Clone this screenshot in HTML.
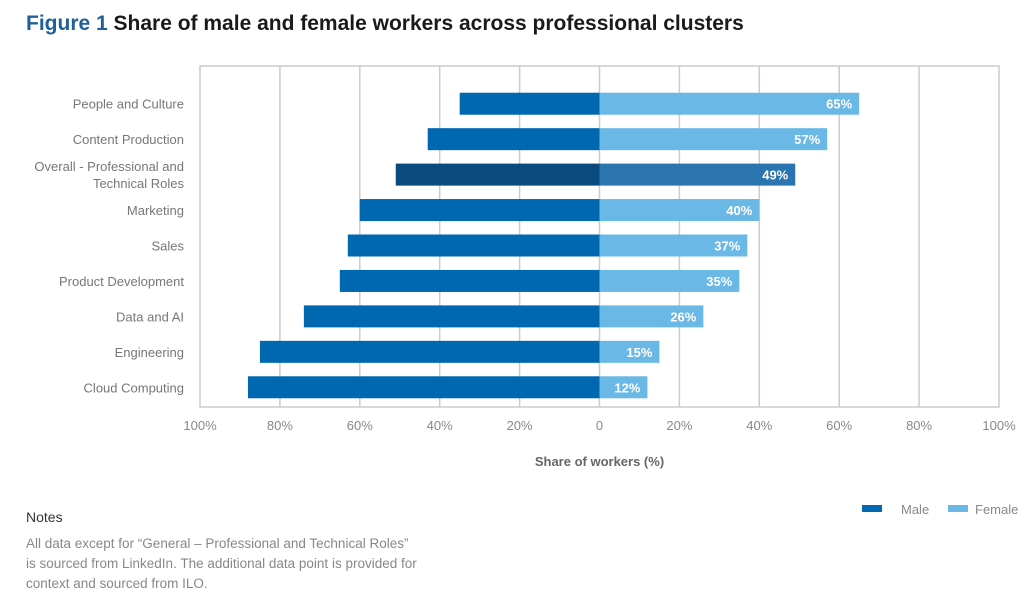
<!DOCTYPE html>
<html><head><meta charset="utf-8"><style>
body{margin:0;width:1024px;height:597px;background:#fff;font-family:"Liberation Sans",sans-serif;overflow:hidden;position:relative}
.t{position:absolute;white-space:nowrap}
</style></head><body>
<div class="t" style="left:26px;top:12px;font-size:21px;font-weight:bold;color:#1a1a1a"><span style="color:#1f5f9a">Figure 1</span> Share of male and female workers across professional clusters</div>
<svg id="c" width="1024" height="597" style="position:absolute;left:0;top:0;font-family:'Liberation Sans',sans-serif"></svg>
<div class="t" style="left:26px;top:509px;font-size:14px;color:#333">Notes</div>
<div class="t" style="left:26px;top:534px;font-size:13.5px;color:#888;line-height:20px">All data except for “General – Professional and Technical Roles”<br>is sourced from LinkedIn. The additional data point is provided for<br>context and sourced from ILO.</div>
<script>
const categories=["People and Culture","Content Production","Overall - Professional and|Technical Roles","Marketing","Sales","Product Development","Data and AI","Engineering","Cloud Computing"];
const maleValues=[35,43,51,60,63,65,74,85,88];
const femaleValues=[65,57,49,40,37,35,26,15,12];
const tickValues=[-100,-80,-60,-40,-20,0,20,40,60,80,100];
const tickLabels=["100%","80%","60%","40%","20%","0","20%","40%","60%","80%","100%"];
const highlightIndex=2;
const svg=document.getElementById('c');const NS='http://www.w3.org/2000/svg';
const L=200,R=999,T=66,B=407;
const x=v=>L+(v+100)/200*(R-L);
const rowH=(B-T-22)/categories.length;
const y=i=>T+20+rowH*i+rowH/2;
function mk(t,a){const e=document.createElementNS(NS,t);for(const k in a)e.setAttribute(k,a[k]);svg.appendChild(e);return e;}
let fr=mk('rect',{x:L,y:T,width:R-L,height:B-T,fill:'none',stroke:'#ccc','stroke-width':1.5});


tickValues.forEach((v,i)=>{
 if(v>-100&&v<100){const g=mk('line',{x1:x(v),x2:x(v),y1:T,y2:B,stroke:'#ccc','stroke-width':1.5});
 
 }
 const t=mk('text',{x:x(v),y:430,'text-anchor':'middle','font-size':13,fill:'#888'});t.textContent=tickLabels[i];
 
 
});
const at=mk('text',{x:x(0),y:466,'text-anchor':'middle','font-size':13,'font-weight':'bold',fill:'#666'});at.textContent='Share of workers (%)';


categories.forEach((c,i)=>{
 const cy=y(i),h=22,hi=i===highlightIndex;
 const m=mk('rect',{x:x(-maleValues[i]),y:cy-h/2,width:x(0)-x(-maleValues[i]),height:h,fill:hi?'#0a4a7c':'#0067b1'});
 
 
 const f=mk('rect',{x:x(0),y:cy-h/2,width:x(femaleValues[i])-x(0),height:h,fill:hi?'#2a74b0':'#6ab8e6'});
 
 
 const v=mk('text',{x:x(femaleValues[i])-7,y:cy+5,'text-anchor':'end','font-size':13,'font-weight':'bold',fill:'#fff'});v.textContent=femaleValues[i]+'%';
 
 
 const parts=c.split('|');
 parts.forEach((p,j)=>{const t=mk('text',{x:184,y:cy+5+(j-(parts.length-1)/2)*17,'text-anchor':'end','font-size':13,fill:'#777'});t.textContent=p;
 
 });
});
[['Male','#0067b1',862,901],['Female','#6ab8e6',948,975]].forEach(l=>{
 const r=mk('rect',{x:l[2],y:505,width:20,height:7,fill:l[1]});
 
 
 const t=mk('text',{x:l[3],y:514,'font-size':13,fill:'#888'});t.textContent=l[0];
 
 
});
</script>
</body></html>
